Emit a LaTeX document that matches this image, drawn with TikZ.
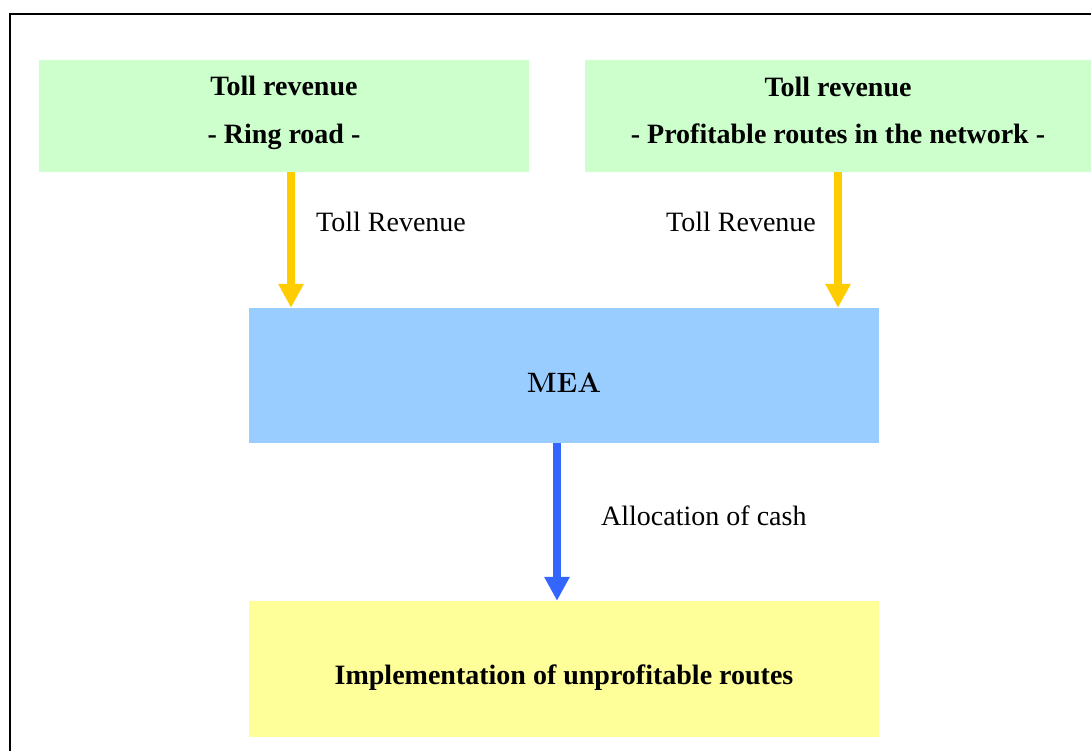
\documentclass[tikz,border=0pt]{standalone}
\usepackage{fontspec}
\setmainfont{Liberation Serif}
\newcommand\meastyle{\fontfamily{lmr}\fontseries{bx}\fontshape{n}\fontsize{28}{34}\selectfont}
\usetikzlibrary{arrows.meta}
\definecolor{boxgreen}{HTML}{CCFFCC}
\definecolor{boxblue}{HTML}{99CCFF}
\definecolor{boxyellow}{HTML}{FFFF99}
\definecolor{flowgold}{HTML}{FFCC00}
\definecolor{flowblue}{HTML}{3366FF}
\tikzset{
  block/.style={draw=none, inner sep=0pt},
  heading/.style={anchor=base, inner sep=0pt, font=\fontsize{28}{34}\selectfont\bfseries},
  flow/.style={line width=8pt, -{Triangle[length=24pt,width=24pt]}},
  flowlabel/.style={anchor=base west, inner sep=0pt, font=\fontsize{28}{34}\selectfont},
}
\begin{document}
\begin{tikzpicture}[x=1pt,y=-1pt]
  \useasboundingbox (0,0) rectangle (1091,751);
  % outer frame (open to the right and bottom)
  \draw[line width=2pt] (10,751) -- (10,14) -- (1091,14);

  % boxes
  \node[block, fill=boxgreen, minimum width=490pt, minimum height=112pt] (ring) at (284,116) {};
  \node[block, fill=boxgreen, minimum width=506pt, minimum height=112pt] (prof) at (838,116) {};
  \node[block, fill=boxblue, minimum width=630pt, minimum height=135pt] (mea) at (564,375.5) {};
  \node[block, fill=boxyellow, minimum width=630pt, minimum height=136pt] (impl) at (564,669) {};

  % box texts
  \node[heading] (ringa) at (284,96) {Toll revenue};
  \node[heading] (ringb) at (284,144) {- Ring road -};
  \node[heading] (profa) at (838,97) {Toll revenue};
  \node[heading] (profb) at (838,144) {- Profitable routes in the network -};
  \node[anchor=base, inner sep=0pt] (meat) at (564,392) {\meastyle MEA};
  \node[heading] (implt) at (564,684) {Implementation of unprofitable routes};

  % flows
  \draw[flow, flowgold] ([xshift=7pt]ring.south) -- ([xshift=7pt]ring.south |- mea.north);
  \draw[flow, flowgold] (prof.south) -- (prof.south |- mea.north);
  \draw[flow, flowblue] ([xshift=-7pt]mea.south) -- ([xshift=-7pt]mea.south |- impl.north);

  % flow labels
  \node[flowlabel] (lblring) at (316,232) {Toll Revenue};
  \node[flowlabel] (lblprof) at (666,232) {Toll Revenue};
  \node[flowlabel] (lblcash) at (601,525) {Allocation of cash};
\end{tikzpicture}
\end{document}
